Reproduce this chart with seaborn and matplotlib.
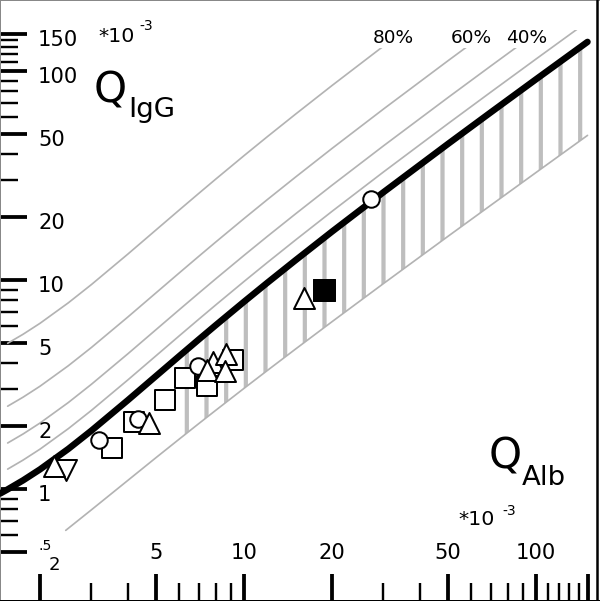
import numpy as np
import pandas as pd
import matplotlib
matplotlib.use("Agg")
import matplotlib.pyplot as plt
from matplotlib.patches import Rectangle
from matplotlib.ticker import FixedLocator, NullFormatter
import seaborn as sns

# ---------------- data (all quotients in units of 10^-3) ----------------
q_alb = [1.46, 1.55, 1.75, 2, 2.5, 3, 4, 5, 6, 7, 8, 10, 12, 15, 20, 30, 50, 70, 100, 150]
q_lim = [0.951, 0.996, 1.100, 1.241, 1.555, 1.902, 2.662, 3.478, 4.327, 5.197, 6.081,
         7.875, 9.690, 12.43, 17.04, 26.29, 44.86, 63.44, 91.33, 137.8]
low_alb = [2.45, 3, 4, 5, 6, 7, 8, 10, 12, 15, 20, 30, 50, 70, 100, 150]
q_low = [0.634, 0.795, 1.100, 1.415, 1.734, 2.057, 2.381, 3.033, 3.687, 4.672,
         6.316, 9.611, 16.21, 22.80, 32.70, 49.20]
if_fractions = [0.2, 0.4, 0.6, 0.8]
if_labels = ["", "40%", "60%", "80%"]
if_caps = [157, 129, 129, 129]

sq_x = [3.53, 4.20, 5.36, 6.27, 7.46, 9.16]
sq_y = [1.57, 2.09, 2.67, 3.40, 3.11, 4.14]
ci_x = [3.18, 4.33, 6.95, 27.2]
ci_y = [1.72, 2.16, 3.88, 24.4]
tu_x = [7.82, 2.23, 4.72, 7.46, 8.67, 8.60, 16.0]
tu_y = [4.05, 1.29, 2.07, 3.71, 4.43, 3.67, 8.20]
td_x = [2.45]
td_y = [1.23]
fs_x = [18.8]
fs_y = [8.96]

y_major = [0.5, 1, 2, 5, 10, 20, 50, 100, 150]
y_major_labels = [".5", "1", "2", "5", "10", "20", "50", "100", "150"]
y_minor = [0.6, 0.7, 0.8, 0.9, 3, 4, 6, 7, 8, 9, 30, 40, 60, 70, 80, 90, 110, 120, 130, 140]
x_major = [2, 5, 10, 20, 50, 100, 150]
x_major_labels = ["2", "5", "10", "20", "50", "100", ""]
x_minor = [3, 4, 6, 7, 8, 9, 30, 40, 60, 70, 80, 90, 110, 120, 130, 140]

# ---------------- figure ----------------
DPI = 118
W, H = 600, 601
P = 72.0 / DPI  # points per pixel

sns.set_theme(style="white")
plt.rcParams["font.family"] = ["DejaVu Sans"]
plt.rcParams["text.color"] = "black"
plt.rcParams["hatch.linewidth"] = 4.2 * P

fig = plt.figure(figsize=(W / DPI, H / DPI), dpi=DPI)
ax = fig.add_axes([0, 0, 1, 1])
ax.set_xscale("log")
ax.set_yscale("log")
ax.set_xlim(2 * 10 ** (-40 / 292), 2 * 10 ** (560 / 292))
ax.set_ylim(10 ** ((489 - 601) / 209), 10 ** (489 / 209))

GRAY = "#b3b3b3"
HATCH = "#bebebe"

up = pd.DataFrame({"alb": q_alb, "lim": q_lim})
low = pd.DataFrame({"alb": low_alb, "low": q_low})
band = up.merge(low, on="alb")
band = band[band["alb"] >= 6]

# hatched band between lower limit and upper limit
ax.fill_between(band["alb"], band["low"], band["lim"], facecolor="none",
                edgecolor=HATCH, hatch="|", linewidth=0, zorder=1)

# intrathecal fraction lines
for frac, cap in zip(if_fractions, if_caps):
    d = up[up["alb"] >= 1.5].copy()
    d["q"] = d["lim"] / (1 - frac)
    sns.lineplot(data=d, x="alb", y="q", ax=ax, color=GRAY, lw=1.7 * P,
                 estimator=None, sort=False, legend=False, zorder=2)
    ln = ax.lines[-1]
    ln.set_clip_path(Rectangle((1, 0.1), 1000, cap - 0.1, transform=ax.transData))

# lower limit line
sns.lineplot(data=low, x="alb", y="low", ax=ax, color=GRAY, lw=1.7 * P,
             estimator=None, sort=False, legend=False, zorder=2)
# upper limit (discrimination line)
sns.lineplot(data=up, x="alb", y="lim", ax=ax, color="black", lw=6.5 * P,
             estimator=None, sort=False, legend=False, zorder=3)

# data points
mk = dict(ax=ax, color="white", edgecolor="black", linewidth=2.0 * P, zorder=5, legend=False)
sns.scatterplot(x=sq_x, y=sq_y, marker="s", s=(19 * P) ** 2, **mk)
sns.scatterplot(x=ci_x, y=ci_y, marker="o", s=(16.5 * P) ** 2, **mk)
sns.scatterplot(x=td_x, y=td_y, marker="v", s=(21 * P) ** 2, **mk)
sns.scatterplot(x=tu_x, y=tu_y, marker="^", s=(21 * P) ** 2, **mk)
sns.scatterplot(x=fs_x, y=fs_y, marker="s", s=(21 * P) ** 2, ax=ax, color="black",
                edgecolor="black", linewidth=1.0 * P, zorder=5, legend=False)

ax.set_xlabel("")
ax.set_ylabel("")

# ticks
ax.xaxis.set_major_locator(FixedLocator(x_major))
ax.xaxis.set_minor_locator(FixedLocator(x_minor))
ax.yaxis.set_major_locator(FixedLocator(y_major))
ax.yaxis.set_minor_locator(FixedLocator(y_minor))
for a in (ax.xaxis, ax.yaxis):
    a.set_major_formatter(NullFormatter())
    a.set_minor_formatter(NullFormatter())
ax.tick_params(which="major", direction="in", length=27 * P, width=3.8 * P,
               color="black", left=True, bottom=True, top=False, right=False)
ax.tick_params(which="minor", direction="in", length=18 * P, width=2.4 * P,
               color="black", left=True, bottom=True, top=False, right=False)

# spines / frame
for s in ("left", "top"):
    ax.spines[s].set_color("#888888")
    ax.spines[s].set_linewidth(2 * P)
ax.spines["bottom"].set_color("black")
ax.spines["bottom"].set_linewidth(2 * P)
ax.spines["right"].set_visible(False)
ax.axvline(2 * 10 ** (557 / 292), color="black", lw=2.5 * P, zorder=6)

# y tick labels (inside, right of the ticks)
for v, lab in zip(y_major, y_major_labels):
    if lab == ".5":
        ax.annotate(lab, xy=(38 / W, v), xycoords=("axes fraction", "data"),
                    xytext=(0, 6 * P), textcoords="offset points",
                    ha="left", va="center", fontsize=14 * P, color="black")
    else:
        ax.annotate(lab, xy=(38 / W, v), xycoords=("axes fraction", "data"),
                    xytext=(0, -6 * P), textcoords="offset points",
                    ha="left", va="center", fontsize=21 * P, color="black")

# x tick labels (above the ticks)
for v, lab in zip(x_major, x_major_labels):
    if not lab:
        continue
    if lab == "2":
        ax.annotate(lab, xy=(v, 1 - 565 / H), xycoords=("data", "axes fraction"),
                    xytext=(14 * P, 0), textcoords="offset points",
                    ha="center", va="center", fontsize=18 * P, color="black")
    else:
        ax.annotate(lab, xy=(v, 1 - 553 / H), xycoords=("data", "axes fraction"),
                    ha="center", va="center", fontsize=21 * P, color="black")

# percentage labels
pct_x = [None, 527, 471, 393]
for lab, px_ in zip(if_labels, pct_x):
    if lab:
        fig.text(px_ / W, 1 - 38 / H, lab, ha="center", va="center",
                 fontsize=18.5 * P, color="black")


def ftext(x, y, s, size, **kw):
    fig.text(x / W, 1 - y / H, s, fontsize=size * P, ha="left", va="baseline",
             color="black", **kw)


# axis titles
ftext(98, 42, "*10", 20.5)
ftext(139, 30, "-3", 14)
ftext(94, 103, "Q", 42)
ftext(128, 117, "IgG", 27.5)

ftext(489, 468, "Q", 42)
ftext(522, 485, "Alb", 27.5)
ftext(458, 525, "*10", 20.5)
ftext(502, 515, "-3", 14)

fig.savefig("out.png", dpi=DPI, facecolor="white")
